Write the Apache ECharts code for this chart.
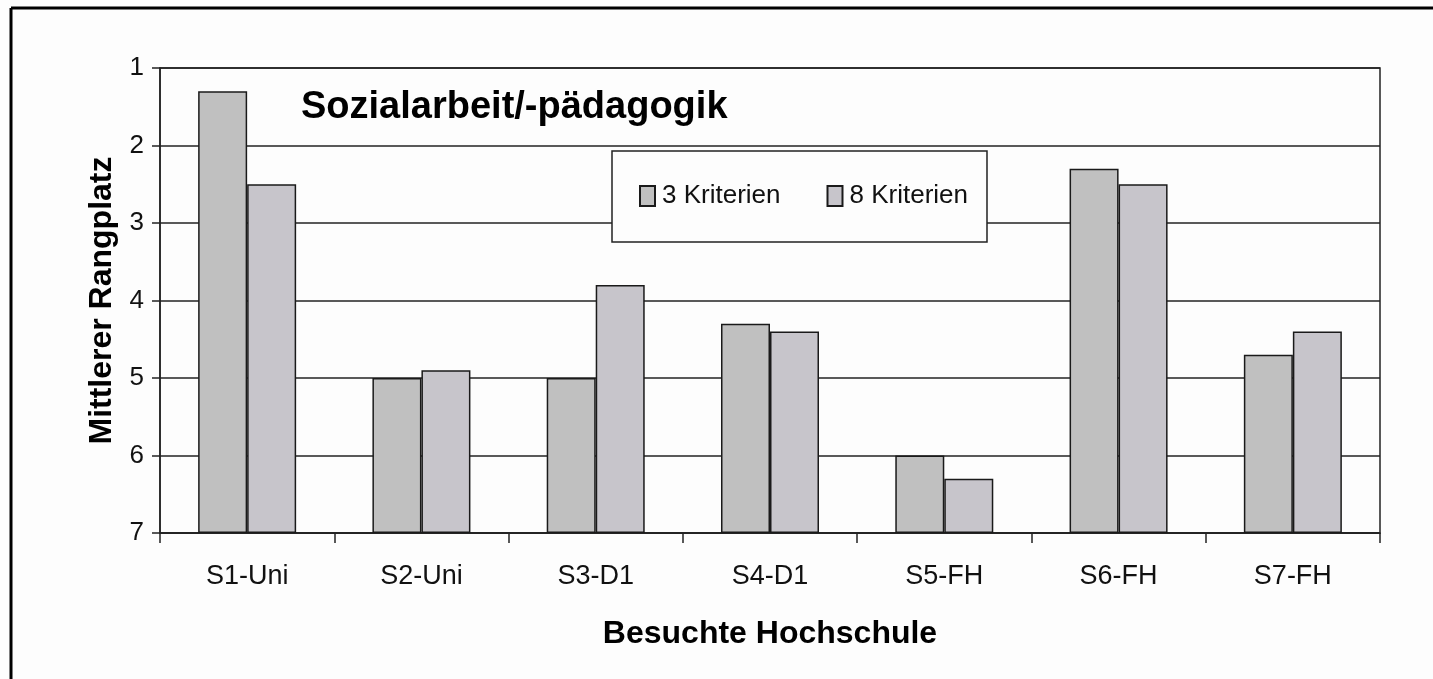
<!DOCTYPE html>
<html>
<head>
<meta charset="utf-8">
<script src="https://cdn.jsdelivr.net/npm/echarts@6/dist/echarts.min.js"></script>
<style>html,body{margin:0;padding:0;background:#fdfdfd;}#c{width:1433px;height:679px;}</style>
</head>
<body>
<div id="c"></div>
<script>
// Data (Mittlerer Rangplatz, 1 = best)
const categories = ['S1-Uni', 'S2-Uni', 'S3-D1', 'S4-D1', 'S5-FH', 'S6-FH', 'S7-FH'];
const krit3 = [1.3, 5.0, 5.0, 4.3, 6.0, 2.3, 4.7];
const krit8 = [2.5, 4.9, 3.8, 4.4, 6.3, 2.5, 4.4];
const seriesNames = ['3 Kriterien', '8 Kriterien'];
const rankTicks = [1, 2, 3, 4, 5, 6, 7];
const worstRank = 7;

const FONT = 'Liberation Sans, Arial, sans-serif';
const chart = echarts.init(document.getElementById('c'), null, { renderer: 'canvas' });

// Bars rise from rank 7 (bottom) up to the rank value: plot height = 7 - rank
const toHeight = v => worstRank - v;

chart.setOption({
  backgroundColor: '#fdfdfd',
  animation: false,
  grid: { left: 160, right: 53, top: 68, bottom: 146, show: true, borderColor: '#222', borderWidth: 1.5, backgroundColor: 'transparent' },
  legend: {
    data: seriesNames,
    left: 612, top: 151,
    orient: 'horizontal',
    backgroundColor: '#fdfdfd',
    borderColor: '#222', borderWidth: 1.5,
    padding: [32, 19, 33, 27],
    itemGap: 46, itemWidth: 15, itemHeight: 20,
    icon: 'rect',
    textStyle: { fontFamily: FONT, fontSize: 26, color: '#111', padding: [0, 0, 0, 2] }
  },
  graphic: [
    { type: 'text', left: 301, top: 89, style: { text: 'Sozialarbeit/-pädagogik', font: 'bold 38px ' + FONT, fill: '#000' } },
    { type: 'line', shape: { x1: 11, y1: 8, x2: 1433, y2: 8 }, style: { stroke: '#000', lineWidth: 3 } },
    { type: 'line', shape: { x1: 11, y1: 8, x2: 11, y2: 679 }, style: { stroke: '#000', lineWidth: 3 } }
  ],
  xAxis: {
    type: 'category',
    data: categories,
    name: 'Besuchte Hochschule',
    nameLocation: 'middle',
    nameGap: 85,
    nameTextStyle: { fontFamily: FONT, fontSize: 32, fontWeight: 'bold', color: '#000' },
    axisLine: { lineStyle: { color: '#222', width: 1.5 } },
    axisTick: { show: true, length: 10, lineStyle: { color: '#222', width: 1.5 } },
    axisLabel: { fontFamily: FONT, fontSize: 27, color: '#111', margin: 30 }
  },
  yAxis: {
    type: 'value',
    min: 0, max: worstRank - rankTicks[0], interval: 1,
    name: 'Mittlerer Rangplatz',
    nameLocation: 'middle',
    nameGap: 42,
    nameRotate: 90,
    nameTextStyle: { fontFamily: FONT, fontSize: 32, fontWeight: 'bold', color: '#000' },
    axisLine: { show: true, lineStyle: { color: '#222', width: 1.5 } },
    axisTick: { show: true, length: 8, lineStyle: { color: '#222', width: 1.5 } },
    splitLine: { show: true, lineStyle: { color: '#222', width: 1.5 } },
    axisLabel: { fontFamily: FONT, fontSize: 26, color: '#111', margin: 16, formatter: v => String(rankTicks[rankTicks.length - 1 - v]) }
  },
  series: [
    {
      name: seriesNames[0], type: 'bar', data: krit3.map(toHeight),
      barWidth: 49, barGap: '0%',
      itemStyle: { color: '#c0c0c0', borderColor: '#1a1a1a', borderWidth: 1.5 }
    },
    {
      name: seriesNames[1], type: 'bar', data: krit8.map(toHeight),
      barWidth: 49, barGap: '0%',
      itemStyle: { color: '#c7c5cb', borderColor: '#1a1a1a', borderWidth: 1.5 }
    }
  ]
});
</script>
</body>
</html>
